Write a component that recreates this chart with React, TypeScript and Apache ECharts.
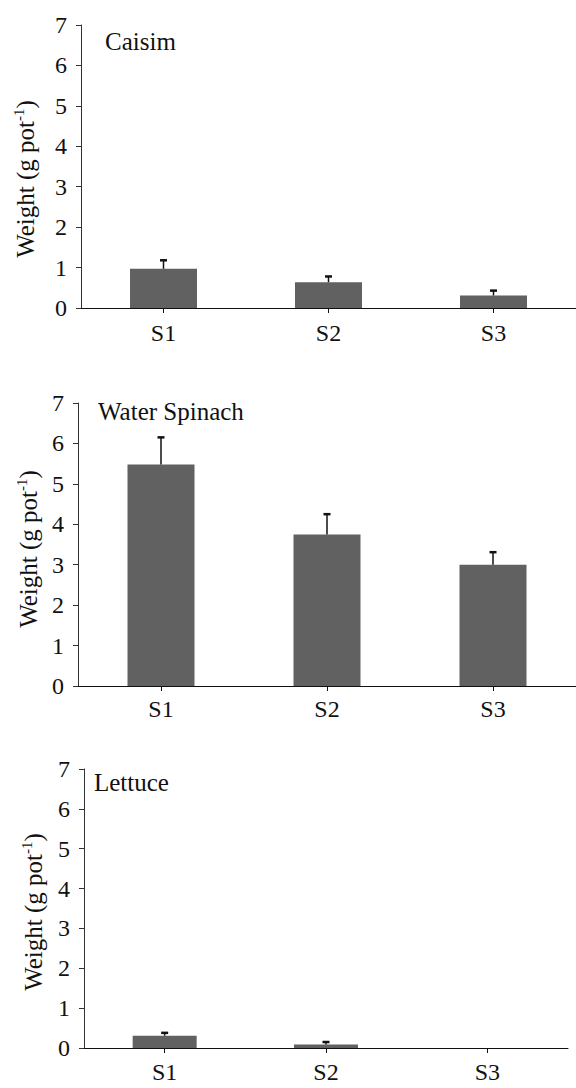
import React, { useEffect, useRef } from "react";
import * as echarts from "echarts";

const categories = ["S1", "S2", "S3"];
const panelTitles = ["Caisim", "Water Spinach", "Lettuce"];
const caisimMean = [0.97, 0.64, 0.31];
const caisimErr = [0.21, 0.14, 0.12];
const spinachMean = [5.48, 3.75, 3.0];
const spinachErr = [0.67, 0.5, 0.31];
const lettuceMean = [0.31, 0.09, 0];
const lettuceErr = [0.07, 0.06, 0];
const yMin = 0;
const yMax = 7;
const yStep = 1;

const FONT = "Liberation Serif";
const BAR = "#616161";
const INK = "#111";

export default function App() {
  const ref = useRef<HTMLDivElement>(null);
  useEffect(() => {
    if (!ref.current) return;
    const chart = echarts.init(ref.current, undefined, { renderer: "svg" });
    const grids = [
      { left: 81, top: 25, width: 507, height: 283 },
      { left: 78, top: 403, width: 507, height: 283 },
      { left: 84, top: 769, width: 484, height: 279 },
    ];
    const means = [caisimMean, spinachMean, lettuceMean];
    const errs = [caisimErr, spinachErr, lettuceErr];
    const barWidths = [67, 67, 64];
    const labelMargins = [13, 11, 12];
    const yNamePos = [
      [25, 179],
      [28, 549],
      [33, 912],
    ];
    const titlePos = [
      [105, 41],
      [98, 411],
      [94, 782],
    ];

    const xAxes = grids.map((_, i) => ({
      type: "category",
      gridIndex: i,
      data: categories,
      boundaryGap: true,
      axisLine: { show: true, lineStyle: { color: INK, width: 1 } },
      axisTick: { show: true, alignWithLabel: true, length: 5, lineStyle: { color: INK } },
      axisLabel: { color: INK, fontFamily: FONT, fontSize: 24, margin: labelMargins[i] },
      splitLine: { show: false },
    }));
    const yAxes = grids.map((_, i) => ({
      type: "value",
      gridIndex: i,
      min: yMin,
      max: yMax,
      interval: yStep,
      axisLine: { show: true, lineStyle: { color: "#333", width: 1 } },
      axisTick: { show: true, length: 5, lineStyle: { color: "#333" } },
      axisLabel: { color: INK, fontFamily: FONT, fontSize: 24, margin: 14 },
      splitLine: { show: false },
    }));

    const series: any[] = [];
    means.forEach((m, i) => {
      series.push({
        type: "bar",
        xAxisIndex: i,
        yAxisIndex: i,
        data: m,
        barWidth: barWidths[i],
        itemStyle: { color: BAR },
        z: 2,
      });
      series.push({
        type: "custom",
        xAxisIndex: i,
        yAxisIndex: i,
        z: 3,
        data: m.map((v, j) => [j, v, errs[i][j]]),
        renderItem: (params: any, api: any) => {
          const idx = api.value(0);
          const v = api.value(1);
          const e = api.value(2);
          if (!e) return null;
          const base = api.coord([idx, v]);
          const top = api.coord([idx, v + e]);
          return {
            type: "group",
            children: [
              {
                type: "line",
                shape: { x1: base[0], y1: base[1], x2: top[0], y2: top[1] },
                style: { stroke: INK, lineWidth: 1.5 },
              },
              {
                type: "line",
                shape: { x1: top[0] - 3.5, y1: top[1], x2: top[0] + 3.5, y2: top[1] },
                style: { stroke: INK, lineWidth: 2.5 },
              },
            ],
          };
        },
      });
    });

    const graphics: any[] = [];
    yNamePos.forEach((p) => {
      graphics.push({
        type: "text",
        x: p[0],
        y: p[1],
        rotation: Math.PI / 2,
        style: {
          text: "{n|Weight (g pot}{s|-1}{n|)}",
          align: "center",
          verticalAlign: "middle",
          fill: INK,
          rich: {
            n: { fontFamily: FONT, fontSize: 25, lineHeight: 28, fill: INK },
            s: { fontFamily: FONT, fontSize: 15, lineHeight: 28, verticalAlign: "top", fill: INK },
          },
        },
      });
    });
    titlePos.forEach((p, i) => {
      graphics.push({
        type: "text",
        x: p[0],
        y: p[1],
        style: {
          text: panelTitles[i],
          font: "25px " + FONT,
          fill: INK,
          align: "left",
          verticalAlign: "middle",
        },
      });
    });

    chart.setOption({
      animation: false,
      backgroundColor: "#fff",
      textStyle: { fontFamily: FONT },
      grid: grids,
      xAxis: xAxes,
      yAxis: yAxes,
      series,
      graphic: graphics,
    });
    return () => chart.dispose();
  }, []);
  return (
    <div
      ref={ref}
      style={{ position: "absolute", left: 0, top: 0, width: 576, height: 1088 }}
    />
  );
}
